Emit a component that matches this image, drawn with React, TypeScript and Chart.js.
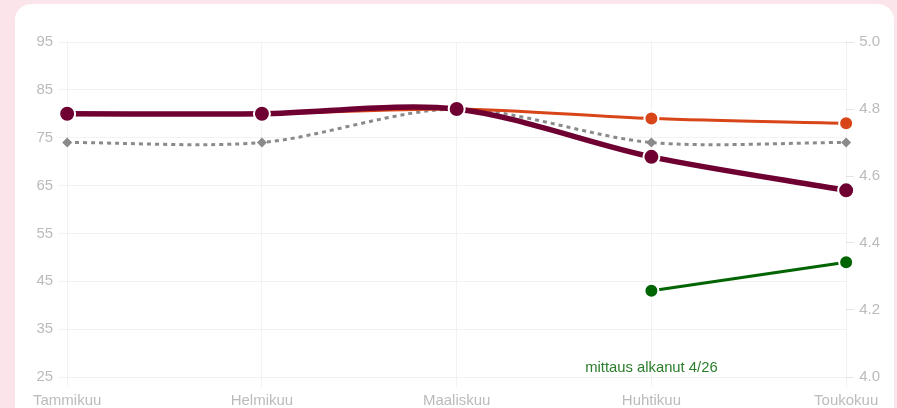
import React, { useEffect, useRef } from "react";
import { Chart, registerables } from "chart.js";

Chart.register(...registerables);

const months = ["Tammikuu", "Helmikuu", "Maaliskuu", "Huhtikuu", "Toukokuu"];
const maroonValues = [80, 80, 81, 71, 64];
const orangeValues = [80, 80, 81, 79, 78];
const greenValues: (number | null)[] = [null, null, null, 43, 49];
const greyValues = [4.7, 4.7, 4.8, 4.7, 4.7];
const annotationText = "mittaus alkanut 4/26";
const annotationMonth = "Huhtikuu";

const noteplugin = {
  id: "notePlugin",
  afterDatasetsDraw(chart: any) {
    const { ctx, scales } = chart;
    const x = scales.x.getPixelForValue(months.indexOf(annotationMonth));
    const y = scales.y.getPixelForValue(25) - 9;
    ctx.save();
    ctx.font = "14.8px 'Liberation Sans', Arial, sans-serif";
    ctx.fillStyle = "#2a7d2a";
    ctx.textAlign = "center";
    ctx.textBaseline = "middle";
    ctx.fillText(annotationText, x, y);
    ctx.restore();
  },
};

export default function App() {
  const ref = useRef<HTMLCanvasElement>(null);
  useEffect(() => {
    if (!ref.current) return;
    const tickFont = { size: 15, family: "'Liberation Sans', Arial, sans-serif" };
    const chart = new Chart(ref.current, {
      type: "line",
      data: {
        labels: months,
        datasets: [
          {
            data: maroonValues,
            borderColor: "#6e0032",
            backgroundColor: "#6e0032",
            borderWidth: 5.5,
            pointRadius: 8,
            pointBorderColor: "#ffffff",
            pointBorderWidth: 2,
            tension: 0.3,
            yAxisID: "y",
          },
          {
            data: orangeValues,
            borderColor: "#d84519",
            backgroundColor: "#d84519",
            borderWidth: 3,
            pointRadius: 7,
            pointBorderColor: "#ffffff",
            pointBorderWidth: 2,
            tension: 0.3,
            yAxisID: "y",
          },
          {
            data: greenValues,
            borderColor: "#006400",
            backgroundColor: "#006400",
            borderWidth: 3,
            pointRadius: 7,
            pointBorderColor: "#ffffff",
            pointBorderWidth: 2,
            tension: 0.3,
            yAxisID: "y",
          },
          {
            data: greyValues,
            borderColor: "#8a8a8a",
            backgroundColor: "#8a8a8a",
            borderWidth: 3,
            borderDash: [4, 4],
            pointStyle: "rectRot",
            pointRadius: 5,
            pointBorderWidth: 0,
            tension: 0.3,
            yAxisID: "y1",
          },
        ],
      },
      options: {
        animation: false,
        responsive: true,
        maintainAspectRatio: false,
        plugins: { legend: { display: false }, tooltip: { enabled: false } },
        layout: { padding: 0 },
        scales: {
          x: {
            grid: { color: "rgba(0,0,0,0.05)", tickLength: 10 },
            border: { display: false },
            ticks: { color: "#bbbbbb", font: tickFont, maxRotation: 0, padding: 5 },
          },
          y: {
            position: "left",
            min: 25,
            max: 95,
            grid: { color: "rgba(0,0,0,0.05)", tickLength: 9 },
            border: { display: false },
            ticks: { stepSize: 10, color: "#bbbbbb", font: tickFont, padding: 5 },
          },
          y1: {
            position: "right",
            min: 4.0,
            max: 5.0,
            grid: { drawOnChartArea: false, color: "rgba(0,0,0,0.1)", tickLength: 8 },
            border: { display: false },
            ticks: {
              stepSize: 0.2,
              color: "#bbbbbb",
              font: tickFont,
              padding: 5,
              callback: (v: any) => Number(v).toFixed(1),
            },
          },
        },
      },
      plugins: [noteplugin],
    });
    return () => chart.destroy();
  }, []);

  return (
    <div style={{ position: "fixed", inset: 0, background: "#fbe5ea", overflow: "hidden" }}>
      <div
        style={{
          position: "absolute",
          left: 15,
          top: 4,
          width: 879,
          height: 440,
          background: "#ffffff",
          borderRadius: 16,
        }}
      >
        <div style={{ position: "absolute", left: 13, top: 24, width: 857, height: 387 }}>
          <canvas ref={ref} />
        </div>
      </div>
    </div>
  );
}
